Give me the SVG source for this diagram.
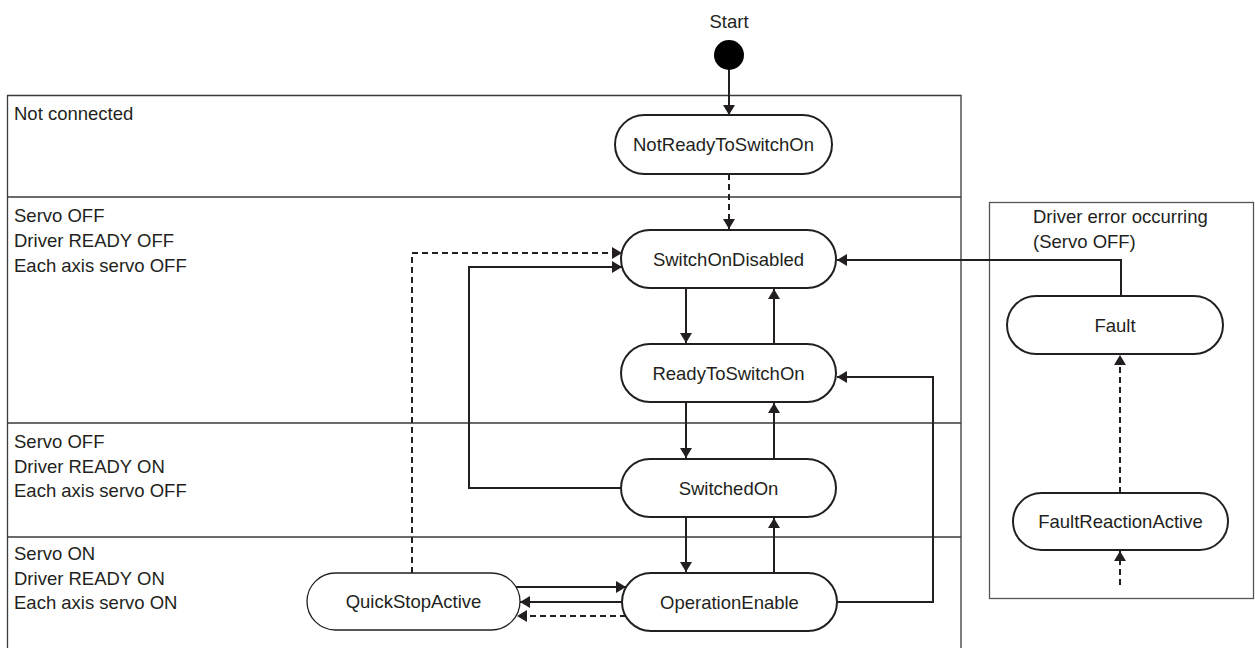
<svg xmlns="http://www.w3.org/2000/svg" width="1255" height="648" viewBox="0 0 1255 648">
<style>
  text { font-family: "Liberation Sans", Arial, sans-serif; font-size: 18.5px; fill: #231f20; }
  .mid { text-anchor: middle; }
  .region { fill: none; stroke: #3a3a3a; stroke-width: 1.3; }
  .pill { fill: #ffffff; stroke: #231f20; stroke-width: 2; }
  .pill.thin { stroke-width: 1.3; }
  .c { fill: none; stroke: #231f20; stroke-width: 2; }
  .d { stroke-dasharray: 6 4; }
  .a { marker-end: url(#arr); }
</style>
<defs>
  <marker id="arr" markerUnits="userSpaceOnUse" viewBox="0 0 10 12" markerWidth="10" markerHeight="12" refX="10" refY="6" orient="auto">
    <path d="M0,0 L10,6 L0,12 z" fill="#231f20"/>
  </marker>
</defs>
<rect width="1255" height="648" fill="#ffffff"/>

<g id="regions">
  <path class="region" d="M7.5,660 V95.5 H961 V660"/>
  <line class="region" x1="7.5" y1="197" x2="961" y2="197"/>
  <line class="region" x1="7.5" y1="423" x2="961" y2="423"/>
  <line class="region" x1="7.5" y1="537" x2="961" y2="537"/>
  <text x="14" y="120">Not connected</text>
  <text x="14" y="222">Servo OFF</text>
  <text x="14" y="247">Driver READY OFF</text>
  <text x="14" y="272">Each axis servo OFF</text>
  <text x="14" y="448">Servo OFF</text>
  <text x="14" y="473">Driver READY ON</text>
  <text x="14" y="497">Each axis servo OFF</text>
  <text x="14" y="560">Servo ON</text>
  <text x="14" y="585">Driver READY ON</text>
  <text x="14" y="609">Each axis servo ON</text>
  <rect x="989.5" y="202.5" width="264" height="396" fill="none" stroke="#555555" stroke-width="1.3"/>
  <text x="1033" y="223">Driver error occurring</text>
  <text x="1033" y="248">(Servo OFF)</text>
</g>

<g id="connectors">
  <line class="c a" x1="729" y1="60" x2="729" y2="115"/>
  <line class="c d a" x1="729" y1="174" x2="729" y2="229"/>
  <line class="c a" x1="686" y1="288" x2="686" y2="343"/>
  <line class="c a" x1="774" y1="344" x2="774" y2="289"/>
  <line class="c a" x1="686" y1="402" x2="686" y2="458"/>
  <line class="c a" x1="774" y1="459" x2="774" y2="403"/>
  <line class="c a" x1="686" y1="517" x2="686" y2="572"/>
  <line class="c a" x1="774" y1="573" x2="774" y2="518"/>
  <polyline class="c a" points="622,488 469,488 469,267 622,267"/>
  <polyline class="c d a" points="412,573 412,253 622,253"/>
  <line class="c a" x1="516" y1="587" x2="626" y2="587"/>
  <line class="c a" x1="622" y1="602" x2="520" y2="602"/>
  <line class="c d a" x1="626" y1="616" x2="517" y2="616"/>
  <polyline class="c a" points="837,602 933,602 933,377 837,377"/>
  <polyline class="c a" points="1121,296 1121,260 837,260"/>
  <line class="c d a" x1="1120" y1="493" x2="1120" y2="355"/>
  <line class="c d a" x1="1120" y1="585" x2="1120" y2="551"/>
</g>

<g id="start">
  <text class="mid" x="729" y="28">Start</text>
  <circle cx="729" cy="55" r="15" fill="#000000"/>
</g>
<g id="NotReadyToSwitchOn">
  <rect class="pill" x="615" y="115" width="217" height="59" rx="29.5"/>
  <text class="mid" x="723.5" y="151">NotReadyToSwitchOn</text>
</g>
<g id="SwitchOnDisabled">
  <rect class="pill" x="621" y="230" width="215" height="58" rx="29"/>
  <text class="mid" x="728.5" y="265.5">SwitchOnDisabled</text>
</g>
<g id="ReadyToSwitchOn">
  <rect class="pill" x="621" y="344" width="215" height="58" rx="29"/>
  <text class="mid" x="728.5" y="379.5">ReadyToSwitchOn</text>
</g>
<g id="SwitchedOn">
  <rect class="pill" x="621" y="459" width="215" height="58" rx="29"/>
  <text class="mid" x="728.5" y="494.5">SwitchedOn</text>
</g>
<g id="OperationEnable">
  <rect class="pill" x="622" y="573" width="215" height="58" rx="29"/>
  <text class="mid" x="729.5" y="608.5">OperationEnable</text>
</g>
<g id="QuickStopActive">
  <rect class="pill thin" x="307" y="573" width="213" height="57" rx="28.5"/>
  <text class="mid" x="413.5" y="608">QuickStopActive</text>
</g>
<g id="Fault">
  <rect class="pill" x="1007" y="296" width="216" height="58" rx="29"/>
  <text class="mid" x="1115" y="331.5">Fault</text>
</g>
<g id="FaultReactionActive">
  <rect class="pill" x="1013" y="493" width="215" height="57" rx="28.5"/>
  <text class="mid" x="1120.5" y="528">FaultReactionActive</text>
</g>
</svg>
